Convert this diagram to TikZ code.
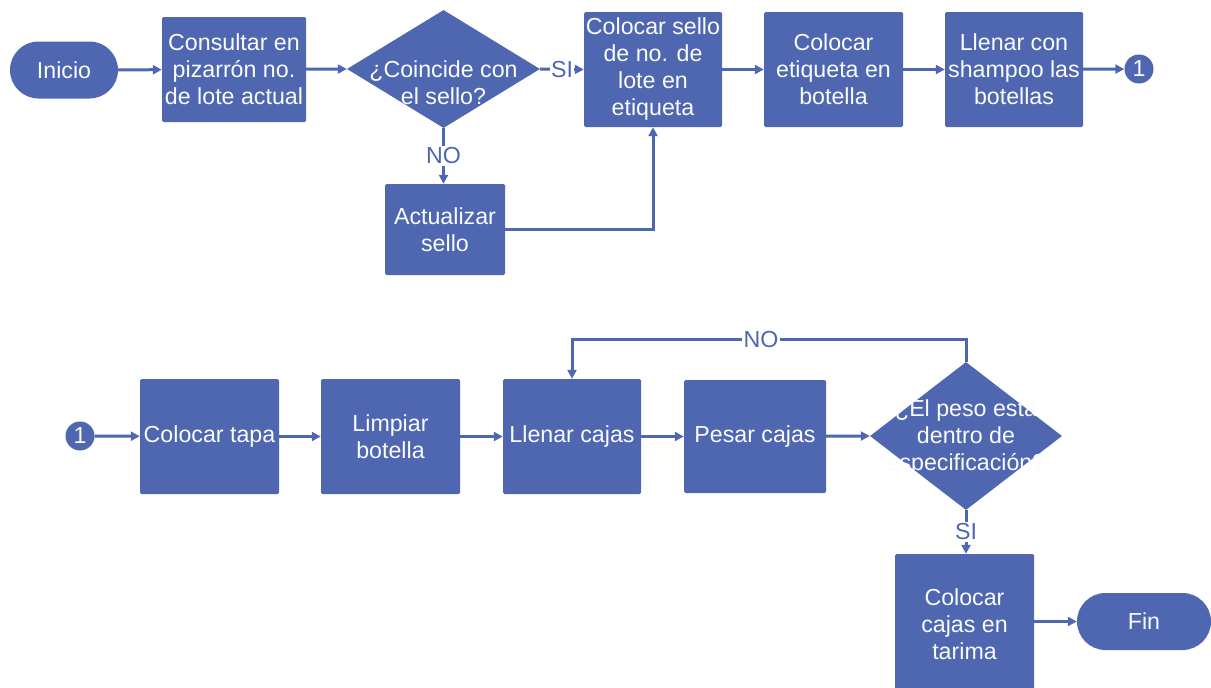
\documentclass[tikz,border=0pt]{standalone}
\usepackage{fontspec}
\setmainfont{Liberation Sans}
\usetikzlibrary{arrows.meta,shapes.geometric,shapes.misc,calc}
\definecolor{flow}{RGB}{79,102,176}
\definecolor{txt}{RGB}{250,251,253}
\begin{document}
\begin{tikzpicture}[x=1pt,y=-1pt,
  every node/.style={font=\fontsize{23.2}{27}\selectfont},
  proc/.style={rectangle, rounded corners=1.5pt, fill=flow, text=txt, align=center, inner sep=0pt},
  term/.style={rounded rectangle, fill=flow, text=txt, minimum height=57pt, inner sep=0pt},
  dec/.style={diamond, fill=flow, inner sep=0pt},
  dectext/.style={text=txt, align=center, inner sep=0pt},
  conn/.style={circle, fill=flow, text=txt, minimum size=29pt, inner sep=0pt},
  flowline/.style={draw=flow, line width=3pt, -{Triangle[length=9pt,width=9pt]}},
  lbl/.style={fill=white, text=flow, inner sep=1.5pt}
]
\useasboundingbox[fill=white] (0,0) rectangle (1211,688);

% first row
\node[term, minimum width=108pt] (ini) at (64,70) {Inicio};
\node[proc, minimum width=144pt, minimum height=105pt] (b1) at (234,69.5) {Consultar en\\pizarrón no.\\de lote actual};
\node[dec, minimum width=193pt, minimum height=118pt] (d1) at (443.5,69) {};
\node[dectext] (d1t) at (443.5,82.5) {¿Coincide con\\el sello?};
\node[proc, minimum width=138pt, minimum height=115pt] (b2) at (653,69.5) {Colocar sello\\de no. de\\lote en\\etiqueta};
\node[proc, minimum width=139pt, minimum height=115pt] (b3) at (833.5,69.5) {Colocar\\etiqueta en\\botella};
\node[proc, minimum width=138pt, minimum height=115pt] (b4) at (1014,69.5) {Llenar con\\shampoo las\\botellas};
\node[conn] (c1) at (1139,69) {1};
\node[proc, minimum width=120pt, minimum height=91pt] (b5) at (445,229.5) {Actualizar\\sello};

\draw[flowline] (ini) -- (b1);
\draw[flowline] (b1) -- (d1.west);
\draw[flowline] (d1.east) -- node[lbl] {SI} (b2.west);
\draw[flowline] (d1.south) -- node[lbl] {NO} (d1.south |- b5.north);
\draw[flowline] (b5.east) -| (b2.south);
\draw[flowline] (b2) -- (b3);
\draw[flowline] (b3) -- (b4);
\draw[flowline] (b4) -- (c1);

% second row
\node[conn] (c2) at (80,436) {1};
\node[proc, minimum width=139pt, minimum height=115pt] (b6) at (209.5,436.5) {Colocar tapa};
\node[proc, minimum width=139pt, minimum height=115pt] (b7) at (390.5,436.5) {Limpiar\\botella};
\node[proc, minimum width=138pt, minimum height=115pt] (b8) at (572,436.5) {Llenar cajas};
\node[proc, minimum width=142pt, minimum height=113pt] (b9) at (755,436.5) {Pesar cajas};
\node[dec, minimum width=192pt, minimum height=148pt] (d2) at (966,436) {};
\node[dectext] (d2t) at (966,437.5) {¿El peso esta\\dentro de\\especificación?};
\node[proc, minimum width=139pt, minimum height=140pt] (b10) at (964.5,624) {Colocar\\cajas en\\tarima};
\node[term, minimum width=134pt] (fin) at (1144,621.5) {Fin};

\draw[flowline] (c2) -- (b6);
\draw[flowline] (b6) -- (b7);
\draw[flowline] (b7) -- (b8);
\draw[flowline] (b8) -- (b9);
\draw[flowline] (b9) -- (d2.west);
\draw[flowline] (d2.north) -- ++(0,-22) -| node[lbl, pos=0.26] {NO} (b8.north);
\draw[flowline] (d2.south) -- node[lbl] {SI} (d2.south |- b10.north);
\draw[flowline] (b10.east |- fin.west) -- (fin.west);
\end{tikzpicture}
\end{document}
